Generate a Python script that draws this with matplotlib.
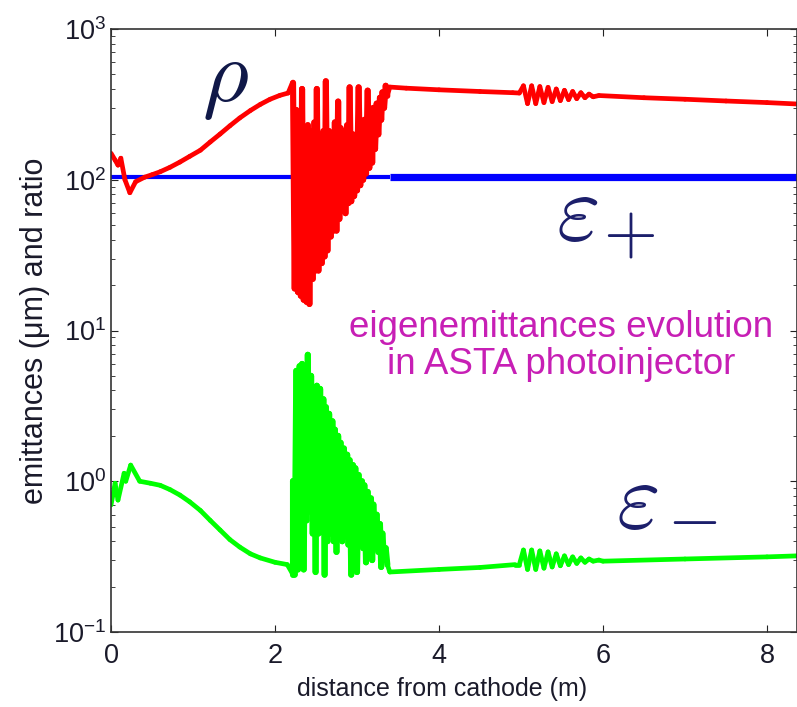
import numpy as np
import matplotlib
matplotlib.use('Agg')
import matplotlib.pyplot as plt
from matplotlib.collections import LineCollection

plt.rcParams['font.family'] = ['Liberation Sans', 'DejaVu Sans']
plt.rcParams['path.simplify'] = False

# ---- data ----
# rho (red): smooth part before the cavity region
red_x_pre = [0, 0.05, 0.085, 0.12, 0.17, 0.23, 0.30, 0.41, 0.50, 0.60, 0.72, 0.84, 0.96, 1.09, 1.21, 1.33,
             1.45, 1.57, 1.70, 1.82, 1.94, 2.06, 2.16, 2.21]
red_y_pre = [150, 135, 125, 139, 100, 82, 97, 104, 108, 113, 121, 131, 143, 157, 178, 201,
             228, 257, 288, 316, 342, 363, 376, 437]

# oscillating region (peak / trough positions)
osc_x_top = [2.22, 2.26, 2.30, 2.33, 2.37, 2.40, 2.44, 2.48, 2.51, 2.55, 2.59, 2.62, 2.66, 2.70, 2.73, 2.77,
             2.80, 2.84, 2.88, 2.91, 2.95, 2.98, 3.02, 3.06, 3.09, 3.13, 3.17, 3.20, 3.24, 3.28, 3.31, 3.35]
osc_x_bot = [2.24, 2.28, 2.315, 2.35, 2.385, 2.42, 2.46, 2.495, 2.53, 2.57, 2.605, 2.64, 2.68, 2.715, 2.75, 2.785,
             2.82, 2.86, 2.895, 2.93, 2.965, 3.00, 3.04, 3.075, 3.11, 3.15, 3.185, 3.22, 3.26, 3.295, 3.33, 3.37]
red_osc_top = [440, 290, 280, 400, 160, 230, 210, 240, 400, 200, 210, 450, 210, 200, 240, 330,
               220, 210, 230, 410, 200, 190, 410, 230, 250, 390, 290, 300, 320, 350, 380, 420]
red_osc_bot = [19, 18, 17, 16, 15.5, 15, 22, 25, 25, 28, 31, 34, 42, 46, 46, 55,
               62, 60, 70, 72, 78, 85, 92, 100, 110, 120, 130, 160, 200, 250, 300, 360]

red_x_mid = [3.40, 3.6, 4.0, 4.5, 4.9]
red_y_mid = [412, 405, 395, 385, 378]

wig_x = [4.98, 5.03, 5.08, 5.13, 5.18, 5.23, 5.28, 5.33, 5.38, 5.43,
         5.48, 5.53, 5.58, 5.63, 5.68, 5.73, 5.78, 5.83, 5.88, 5.95]
red_wig = [376, 420, 320, 420, 320, 415, 325, 410, 330, 400,
           335, 392, 340, 385, 345, 378, 350, 370, 355, 362]

red_x_end = [6.5, 7.0, 7.5, 8.0, 8.37]
red_y_end = [350, 342, 333, 325, 318]

# eps_minus (green)
grn_x_pre = [0, 0.05, 0.085, 0.16, 0.18, 0.24, 0.35, 0.48, 0.60, 0.72, 0.84, 0.96, 1.09, 1.21, 1.33,
             1.45, 1.57, 1.70, 1.82, 2.0, 2.15, 2.22]
grn_y_pre = [0.695, 0.97, 0.75, 1.13, 1.0, 1.28, 1.0, 0.97, 0.94, 0.88, 0.81, 0.73, 0.64, 0.55, 0.475,
             0.41, 0.366, 0.33, 0.31, 0.29, 0.28, 0.24]
grn_osc_top = [1.0, 5.4, 5.8, 6.0, 5.5, 6.9, 5.0, 4.2, 4.3, 4.1, 3.5, 3.1, 2.8, 2.5, 2.2, 2.0,
               1.8, 1.65, 1.5, 1.38, 1.28, 1.22, 1.1, 1.0, 0.94, 0.85, 0.77, 0.7, 0.6, 0.52, 0.45, 0.36]
grn_osc_bot = [0.24, 0.26, 0.27, 0.26, 0.55, 0.63, 0.45, 0.25, 0.45, 0.46, 0.24, 0.40, 0.45, 0.40, 0.34, 0.42,
               0.40, 0.43, 0.38, 0.24, 0.40, 0.25, 0.40, 0.36, 0.29, 0.38, 0.30, 0.36, 0.34, 0.27, 0.30, 0.28]
grn_x_mid = [3.40, 4.0, 4.5, 4.93]
grn_y_mid = [0.25, 0.26, 0.268, 0.28]
grn_wig = [0.28, 0.35, 0.26, 0.35, 0.26, 0.345, 0.265, 0.34, 0.27, 0.33,
           0.275, 0.32, 0.28, 0.315, 0.285, 0.31, 0.29, 0.305, 0.295, 0.30]
grn_x_end = [6.0, 7.0, 8.0, 8.37]
grn_y_end = [0.295, 0.305, 0.315, 0.32]

# eps_plus (blue)
blue_x_thin = [0, 1.5, 3.4]
blue_y_thin = [104, 104, 104]
blue_x_thick = [3.4, 6.0, 8.37]
blue_y_thick = [104, 104, 104]


def interleave(a, b):
    out = []
    for p, q in zip(a, b):
        out += [p, q]
    return out


def segments(x, y):
    pts = np.column_stack([x, y])
    return np.stack([pts[:-1], pts[1:]], axis=1)


osc_x = interleave(osc_x_top, osc_x_bot)
red_x = red_x_pre + osc_x + red_x_mid + wig_x + red_x_end
red_y = red_y_pre + interleave(red_osc_top, red_osc_bot) + red_y_mid + red_wig + red_y_end
grn_x = grn_x_pre + osc_x + grn_x_mid + wig_x + grn_x_end
grn_y = grn_y_pre + interleave(grn_osc_top, grn_osc_bot) + grn_y_mid + grn_wig + grn_y_end

# slightly heavier strokes inside the dense zig-zag so it reads as a filled band
red_lw = [4.4 if osc_x_top[0] <= x < osc_x_bot[-1] else 3.4 for x in red_x[:-1]]
grn_lw = [4.4 if osc_x_top[0] <= x < osc_x_bot[-1] else 3.4 for x in grn_x[:-1]]

W, H = 797, 707
fig = plt.figure(figsize=(W / 100, H / 100), dpi=100)
ax = fig.add_axes([111 / W, 1 - 632 / H, (797 - 111) / W, (632 - 29) / H])
ax.set_yscale('log')
ax.set_xlim(0, 8.366)
ax.set_ylim(0.1, 1000)

ax.plot(blue_x_thin, blue_y_thin, color='#0000ff', lw=3.0, solid_capstyle='butt')
ax.plot(blue_x_thick, blue_y_thick, color='#0000ff', lw=5.2, solid_capstyle='butt')
ax.add_collection(LineCollection(segments(grn_x, grn_y), colors='#00ff00', linewidths=grn_lw,
                                 capstyle='round'), autolim=False)
ax.add_collection(LineCollection(segments(red_x, red_y), colors='#ff0000', linewidths=red_lw,
                                 capstyle='round'), autolim=False)

ax.set_xticks([0, 2, 4, 6, 8])
ax.tick_params(which='both', direction='in', top=True, right=True, colors='#222222',
               labelsize=19.5, labelcolor='#1a1a2a')
ax.tick_params(which='major', length=5)
ax.tick_params(which='minor', length=3)
ax.tick_params(axis='x', which='major', pad=8)
for s in ax.spines.values():
    s.set_color('#333333')
    s.set_linewidth(1.2)

ax.set_xlabel('distance from cathode (m)', fontsize=18, color='#1a1a2a')
ax.xaxis.set_label_coords(0.482, -0.075)
ax.set_ylabel('emittances (\u03bcm) and ratio', fontsize=22, color='#1a1a2a', labelpad=2)

navy = '#1c1f6b'
fig.text(225 / W, 1 - 80 / H, r'$\rho$', fontsize=64, color='#101848',
         ha='center', va='center', math_fontfamily='cm')
fig.text(577 / W, 1 - 216 / H, r'$\varepsilon$', fontsize=68, color=navy,
         ha='center', va='center', math_fontfamily='cm')
fig.text(629 / W, 1 - 234 / H, r'$+$', fontsize=50, color=navy,
         ha='center', va='center', math_fontfamily='cm')
fig.text(637 / W, 1 - 503 / H, r'$\varepsilon$', fontsize=68, color=navy,
         ha='center', va='center', math_fontfamily='cm')
fig.text(692 / W, 1 - 520 / H, r'$-$', fontsize=50, color=navy,
         ha='center', va='center', math_fontfamily='cm')

fig.text(561 / W, 1 - 346 / H, 'eigenemittances evolution\nin ASTA photoinjector',
         fontsize=26.5, color='#c71fb5', ha='center', va='center', linespacing=1.1)

fig.savefig('out.png', dpi=100)
